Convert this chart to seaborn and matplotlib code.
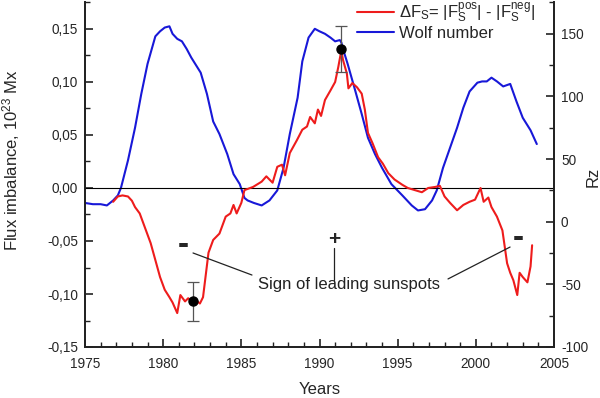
import numpy as np
import pandas as pd
import matplotlib
matplotlib.use("Agg")
import matplotlib.pyplot as plt
from matplotlib.ticker import MultipleLocator, FuncFormatter
import seaborn as sns

# ---------------- data ----------------
wolf_years = [1975.0, 1975.5, 1976.0, 1976.4, 1976.8, 1977.1, 1977.3, 1977.75, 1978.2, 1978.6,
              1979.0, 1979.5, 1979.8, 1980.1, 1980.4, 1980.6, 1980.9, 1981.2, 1981.5, 1981.8,
              1982.1, 1982.4, 1982.8, 1983.2, 1983.6, 1984.1, 1984.5, 1984.9, 1985.2, 1985.4,
              1985.8, 1986.3, 1986.8, 1987.3, 1987.7, 1988.1, 1988.6, 1988.9, 1989.3, 1989.7,
              1990.0, 1990.35, 1990.7, 1991.0, 1991.3, 1991.4, 1991.55, 1991.8, 1992.3, 1992.7,
              1993.1, 1993.55, 1994.0, 1994.6, 1995.3, 1995.9, 1996.3, 1996.75, 1997.2, 1997.5,
              1997.9, 1998.35, 1998.8, 1999.2, 1999.6, 2000.1, 2000.4, 2000.7, 2001.0, 2001.35,
              2001.75, 2002.2, 2002.6, 2003.0, 2003.5, 2003.9]
wolf_rz = [15, 14, 14, 13, 17, 21, 27, 49, 75, 102,
           126, 148, 152, 155, 156, 150, 146, 144, 138, 131,
           125, 119, 102, 80, 70, 54, 38, 30, 19, 17,
           15, 13, 17, 25, 43, 70, 99, 128, 147, 154,
           152, 150, 147, 144, 145, 143, 136, 126, 104, 86,
           67, 54, 43, 30, 21, 13, 9, 10, 17, 25,
           43, 59, 75, 91, 104, 111, 112, 112, 115, 112,
           108, 110, 96, 83, 73, 62]

flux_years = [1976.8, 1977.1, 1977.4, 1977.75, 1978.0, 1978.2, 1978.5, 1978.8, 1979.2, 1979.5,
              1979.8, 1980.1, 1980.4, 1980.6, 1980.9, 1981.1, 1981.4, 1981.6, 1981.85, 1982.1,
              1982.35, 1982.55, 1982.7, 1982.9, 1983.2, 1983.6, 1984.0, 1984.3, 1984.5, 1984.7,
              1985.0, 1985.2, 1985.75, 1986.3, 1986.6, 1987.0, 1987.3, 1987.6, 1987.8, 1988.1,
              1988.55, 1988.9, 1989.2, 1989.4, 1989.7, 1989.9, 1990.1, 1990.35, 1990.7, 1991.0,
              1991.2, 1991.4, 1991.5, 1991.75, 1991.85, 1992.1, 1992.4, 1992.7, 1992.9, 1993.1,
              1993.4, 1993.75, 1994.05, 1994.4, 1994.8, 1995.3, 1995.65, 1996.1, 1996.55, 1996.95,
              1997.4, 1997.7, 1998.0, 1998.35, 1998.8, 1999.2, 1999.6, 1999.95, 2000.3, 2000.5,
              2000.8, 2001.0, 2001.35, 2001.7, 2002.0, 2002.2, 2002.4, 2002.65, 2002.8, 2003.0,
              2003.3, 2003.5, 2003.6]
flux_imb = [-0.013, -0.008, -0.007, -0.008, -0.012, -0.018, -0.024, -0.036, -0.052, -0.068,
            -0.084, -0.096, -0.103, -0.108, -0.118, -0.101, -0.107, -0.104, -0.107, -0.106,
            -0.109, -0.103, -0.085, -0.061, -0.049, -0.043, -0.027, -0.024, -0.016, -0.024,
            -0.014, -0.002, 0.001, 0.006, 0.011, 0.005, 0.020, 0.022, 0.012, 0.033,
            0.045, 0.055, 0.058, 0.067, 0.061, 0.074, 0.068, 0.083, 0.092, 0.100,
            0.114, 0.130, 0.121, 0.108, 0.094, 0.099, 0.095, 0.089, 0.074, 0.052,
            0.042, 0.029, 0.023, 0.014, 0.008, 0.003, 0.000, -0.002, -0.004, 0.000,
            0.001, 0.002, -0.008, -0.014, -0.021, -0.016, -0.013, -0.011, 0.000, -0.013,
            -0.009, -0.018, -0.027, -0.040, -0.071, -0.080, -0.087, -0.101, -0.080, -0.084,
            -0.089, -0.074, -0.054]

err_years = [1981.9, 1991.4]
err_vals = [-0.107, 0.131]
err_sizes = [0.018, 0.022]

x_ticks = [1975, 1980, 1985, 1990, 1995, 2000, 2005]
left_ticks = [-0.15, -0.10, -0.05, 0.00, 0.05, 0.10, 0.15]
right_ticks = [-100, -50, 0, 50, 100, 150]

flux_label = r'$\Delta$F$_\mathregular{S}$= |F$_\mathregular{S}^\mathregular{pos}$| - |F$_\mathregular{S}^\mathregular{neg}$|'
wolf_label = 'Wolf number'
annot_text = 'Sign of leading sunspots'

# ---------------- style ----------------
sns.set_style("ticks")
plt.rcParams['font.family'] = ['Liberation Sans', 'DejaVu Sans']
plt.rcParams['mathtext.fontset'] = 'custom'
plt.rcParams['mathtext.rm'] = 'Liberation Sans'
plt.rcParams['mathtext.it'] = 'Liberation Sans:italic'

RED = '#ee1c1c'
BLUE = '#1818d8'

fig = plt.figure(figsize=(6.0, 3.98), dpi=100)
ax = fig.add_axes([85/600, 1-347/398, (554-85)/600, (347-2.5)/398])
ax2 = ax.twinx()

df_w = pd.DataFrame({'year': wolf_years, 'rz': wolf_rz})
df_f = pd.DataFrame({'year': flux_years, 'flux': flux_imb})

sns.lineplot(data=df_w, x='year', y='rz', ax=ax2, color=BLUE, lw=1.5,
             sort=False, estimator=None, label=wolf_label, legend=False)
sns.lineplot(data=df_f, x='year', y='flux', ax=ax, color=RED, lw=1.5,
             sort=False, estimator=None, label=flux_label, legend=False)

ax.set_zorder(ax2.get_zorder() + 1)
ax.patch.set_visible(False)

ax.axhline(0, color='black', lw=0.8, zorder=1)

ax.errorbar(err_years, err_vals, yerr=err_sizes, fmt='o', color='black',
            ecolor='#555555', elinewidth=0.9, capsize=4, capthick=0.9,
            markersize=6.5, zorder=5)

ax.set_xlim(1975, 2005)
ax.set_ylim(-0.15, 0.175)
ax2.set_ylim(-100, 175)

ax.set_xticks(x_ticks)
ax.set_yticks(left_ticks)
ax2.set_yticks(right_ticks)
ax.xaxis.set_minor_locator(MultipleLocator(1))
ax.yaxis.set_minor_locator(MultipleLocator(0.025))
ax2.yaxis.set_minor_locator(MultipleLocator(25))

def comma_fmt(v, pos):
    if abs(v) < 1e-9:
        v = 0.0
    return f"{v:.2f}".replace('.', ',')

ax.yaxis.set_major_formatter(FuncFormatter(comma_fmt))
ax2.yaxis.set_major_formatter(FuncFormatter(lambda v, p: f"{int(round(v))}"))

for a in (ax, ax2):
    a.tick_params(which='major', direction='in', length=6, width=1.2, labelsize=9.8, color='#222222')
    a.tick_params(which='minor', direction='in', length=3.5, width=1.0, color='#222222')
    for s in a.spines.values():
        s.set_linewidth(1.3)
        s.set_color('#222222')
ax.tick_params(axis='x', which='major', pad=7)
ax.tick_params(axis='y', which='major', pad=5)
ax2.tick_params(axis='y', which='major', pad=5)
ax.spines['top'].set_visible(False)
ax2.spines['top'].set_visible(False)

ax.set_xlabel('Years', fontsize=12)
ax.xaxis.set_label_coords(0.5, -(390 - 347) / 344.5)
ax.xaxis.label.set_va('center')
ax.set_ylabel(r'Flux imbalance, 10$^{\mathregular{23}}$ Mx', fontsize=12)
ax.yaxis.set_label_coords((22 - 85) / 469, (347 - 160) / 344.5)
ax2.set_ylabel('Rz', fontsize=12)
ax2.yaxis.set_label_coords((586 - 85) / 469, (347 - 177) / 344.5)

# annotations
ax.text(1981.27, -0.0538, '-', fontsize=24, fontweight='bold', ha='center', va='center')
ax.text(1990.93, -0.049, '+', fontsize=15, fontweight='bold', ha='center', va='center')
ax.text(2002.70, -0.0472, '-', fontsize=24, fontweight='bold', ha='center', va='center')
ax.plot([1981.91, 1985.68], [-0.0613, -0.0821], color='#222222', lw=0.9)
ax.plot([1990.93, 1990.93], [-0.0566, -0.0868], color='#222222', lw=0.9)
ax.plot([2002.19, 1998.22], [-0.0557, -0.0858], color='#222222', lw=0.9)
ax.text(1991.89, -0.0915, annot_text, fontsize=12, ha='center', va='center', color='#222222')

h1, l1 = ax.get_legend_handles_labels()
h2, l2 = ax2.get_legend_handles_labels()
leg = ax.legend(h1 + h2, l1 + l2, loc='upper left', bbox_to_anchor=(357/600, 1-1/398),
                bbox_transform=fig.transFigure, frameon=False, fontsize=12,
                handlelength=2.2, handletextpad=0.3, labelspacing=0.05, borderpad=0.0,
                borderaxespad=0.0)

fig.savefig('out.png', dpi=100, facecolor='white')
